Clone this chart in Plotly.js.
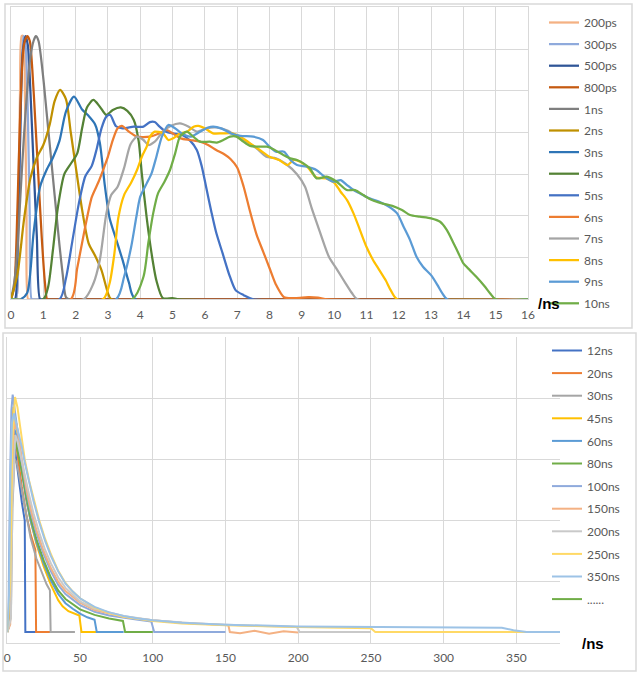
<!DOCTYPE html>
<html><head><meta charset="utf-8">
<script src="https://cdn.plot.ly/plotly-3.0.1.min.js"></script>
<style>html,body{margin:0;padding:0;background:#fff}#chart{width:640px;height:680px}</style>
</head><body><div id="chart"></div>
<script>
// ---------- Top panel (x in ns, y in grid units) ----------
const topNames = ["200ps","300ps","500ps","800ps","1ns","2ns","3ns","4ns","5ns","6ns","7ns","8ns","9ns","10ns"];
const topColors = ["#F4B183","#8FAADC","#2F5597","#C55A11","#7F7F7F","#BF9000","#2E75B6","#548235","#4472C4","#ED7D31","#A5A5A5","#FFC000","#5B9BD5","#70AD47"];
const topTicks = [0,1,2,3,4,5,6,7,8,9,10,11,12,13,14,15,16];

const x_200ps = [0,0.15,0.22,0.28,0.33,0.38,0.43,0.48,0.53,0.6,16];
const y_200ps = [0,0,2.0,5.0,6.31,6.31,5.0,2.0,0,0,0];
const x_300ps = [0,0.15,0.22,0.3,0.38,0.45,0.52,0.58,0.64,0.7,16];
const y_300ps = [0,0,1.5,4.5,6.31,6.1,4.5,2.0,0,0,0];
const x_500ps = [0,0.12,0.2,0.28,0.36,0.45,0.52,0.6,0.7,0.8,0.9,1.0,16];
const y_500ps = [0,0,1.2,3.8,5.9,6.31,6.1,5.0,3.2,1.5,0,0,0];
const x_800ps = [0,0.1,0.2,0.3,0.4,0.5,0.58,0.66,0.75,0.85,0.95,1.05,1.12,1.2,16];
const y_800ps = [0,0.3,2.2,4.8,6.1,6.31,6.2,5.5,4.3,2.9,1.5,0.4,0,0,0];
const x_1ns = [0,0.1,0.2,0.3,0.4,0.5,0.6,0.7,0.77,0.85,1.0,1.1,1.2,1.3,1.4,1.5,1.6,1.7,1.8,16];
const y_1ns = [0,0.4,1.2,2.6,3.9,5.0,5.8,6.2,6.31,6.2,5.3,4.5,3.7,2.9,2.1,1.3,0.6,0.05,0,0];
const x_2ns = [0,0.2,0.4,0.6,0.8,1.0,1.2,1.35,1.52,1.7,1.85,2.0,2.2,2.4,2.6,2.8,3.0,3.1,16];
const y_2ns = [0,0.6,1.9,2.9,3.4,3.7,4.2,4.75,5.02,4.8,4.0,3.2,2.15,1.35,1.05,0.7,0.15,0,0];
const x_3ns = [0,0.3,0.5,0.7,0.9,1.1,1.3,1.5,1.7,1.95,2.2,2.4,2.6,2.75,2.9,3.05,3.25,3.45,3.65,3.85,16];
const y_3ns = [0,0,0.15,1.6,2.7,3.1,3.4,3.8,4.5,4.86,4.55,4.4,4.2,3.75,2.75,1.95,1.45,0.95,0.4,0,0];
const x_4ns = [0,1.0,1.15,1.3,1.45,1.65,1.85,2.05,2.2,2.35,2.55,2.75,2.95,3.15,3.4,3.6,3.8,3.95,4.05,4.2,4.35,4.5,4.7,5.0,5.2,16];
const y_4ns = [0,0,0.3,1.2,2.2,3.0,3.25,3.5,4.1,4.6,4.78,4.62,4.42,4.54,4.6,4.52,4.3,3.8,3.0,1.95,1.1,0.45,0.03,0.03,0,0];
const x_5ns = [0,1.5,1.7,1.9,2.1,2.3,2.5,2.65,2.8,2.95,3.07,3.25,3.45,3.8,4.1,4.3,4.45,4.6,4.8,5.0,5.3,5.55,5.75,5.9,6.05,6.2,6.35,6.55,6.75,6.95,7.2,7.5,16];
const y_5ns = [0,0,0.5,1.4,2.3,2.95,3.2,3.6,4.1,4.38,4.42,4.15,4.1,4.14,4.14,4.25,4.25,4.14,4.02,3.98,3.94,3.8,3.58,3.2,2.65,2.1,1.6,1.1,0.6,0.22,0.1,0,0];
const x_6ns = [0,1.85,2.05,2.3,2.5,2.7,2.85,3.0,3.15,3.3,3.43,3.65,3.9,4.3,4.6,4.8,5.0,5.25,5.55,5.85,6.1,6.35,6.6,6.8,7.0,7.2,7.4,7.6,7.8,8.0,8.2,8.45,8.8,9.2,9.5,9.8,16];
const y_6ns = [0,0,0.75,1.75,2.45,2.8,3.1,3.42,3.82,4.1,4.16,4.02,3.9,3.9,3.98,4.06,3.98,3.86,3.82,3.78,3.7,3.58,3.48,3.36,3.16,2.7,2.1,1.55,1.15,0.75,0.35,0.05,0.03,0.05,0.04,0,0];
const x_7ns = [0,2.25,2.55,2.75,2.95,3.1,3.3,3.5,3.7,3.9,4.1,4.25,4.45,4.7,4.95,5.23,5.5,5.75,6.05,6.35,6.7,7.0,7.3,7.6,7.9,8.2,8.5,8.85,9.1,9.3,9.5,9.7,9.85,10.1,10.35,10.55,10.72,16];
const y_7ns = [0,0,0.38,0.95,2.05,2.5,2.7,3.15,3.72,3.9,3.82,3.7,3.78,4.02,4.16,4.22,4.14,4.02,4.1,4.12,4.05,3.9,3.78,3.62,3.42,3.38,3.25,3.0,2.7,2.2,1.75,1.3,1.0,0.7,0.39,0.15,0,0];
const x_8ns = [0,2.85,3.05,3.2,3.32,3.5,3.72,3.9,4.05,4.2,4.3,4.45,4.7,4.87,5.02,5.23,5.45,5.65,5.8,6.0,6.25,6.55,6.85,7.1,7.4,7.7,8.0,8.3,8.55,8.75,8.95,9.2,9.45,9.75,10.0,10.2,10.4,10.6,10.8,11.0,11.2,11.4,11.6,11.75,11.95,16];
const y_8ns = [0,0,0.38,1.1,1.95,2.5,2.8,3.1,3.42,3.66,3.9,4.02,3.98,3.82,3.86,3.98,4.02,4.14,4.16,4.1,3.98,3.98,3.98,3.9,3.74,3.58,3.42,3.34,3.22,3.34,3.3,3.15,2.92,2.9,2.8,2.58,2.38,2.06,1.66,1.26,0.95,0.7,0.45,0.22,0,0];
const x_9ns = [0,3.25,3.5,3.72,3.88,4.0,4.2,4.35,4.5,4.67,4.87,5.08,5.28,5.55,5.85,6.1,6.26,6.5,6.8,7.1,7.5,7.8,8.0,8.2,8.45,8.65,8.85,9.15,9.45,9.7,9.98,10.2,10.4,10.6,10.8,11.1,11.4,11.7,11.95,12.15,12.35,12.55,12.75,13.0,13.2,13.35,13.5,16];
const y_9ns = [0,0,0.54,1.26,1.98,2.46,2.78,3.02,3.42,3.9,4.18,4.1,3.98,3.9,4.02,4.12,4.14,4.1,3.98,3.92,3.9,3.82,3.66,3.54,3.54,3.34,3.22,3.18,3.1,2.94,2.82,2.86,2.74,2.62,2.54,2.42,2.34,2.22,2.06,1.74,1.42,1.02,0.78,0.58,0.34,0.14,0,0];
const x_10ns = [0,3.75,4.1,4.25,4.4,4.55,4.75,4.92,5.08,5.23,5.44,5.64,5.85,6.15,6.37,6.57,6.78,6.98,7.19,7.4,7.7,7.92,8.12,8.43,8.64,8.85,9.05,9.25,9.46,9.77,10.08,10.39,10.65,10.9,11.17,11.48,11.8,12.1,12.35,12.65,13.0,13.28,13.49,13.7,13.85,14.0,14.2,14.4,14.65,14.83,15.0,16];
const y_10ns = [0,0,0.54,1.35,2.06,2.54,2.82,3.1,3.5,3.9,4.02,3.9,3.78,3.78,3.76,3.82,3.9,3.9,3.78,3.68,3.66,3.66,3.6,3.46,3.38,3.34,3.26,3.14,2.9,2.94,2.82,2.62,2.62,2.5,2.38,2.3,2.24,2.14,2.02,1.98,1.94,1.86,1.66,1.34,1.1,0.86,0.7,0.54,0.32,0.14,0,0];

// ---------- Bottom panel (x in ns, y in grid units) ----------
const botNames = ["12ns","20ns","30ns","45ns","60ns","80ns","100ns","150ns","200ns","250ns","350ns","......"];
const botColors = ["#4472C4","#ED7D31","#A5A5A5","#FFC000","#5B9BD5","#70AD47","#8FAADC","#F4B183","#C9C9C9","#FFD966","#9DC3E6","#70AD47"];
const botTicks = [0,50,100,150,200,250,300,350];

const x_12ns = [0,1.5,2.5,3.5,4.5,6,8,10,12,12.4,20];
const y_12ns = [0.18,0.3,2.2,3.2,3.3,3.0,2.6,2.3,2.0,0.18,0.18];
const x_20ns = [0,2,3,4,5,6,8,10,13,16,19.3,19.8,30];
const y_20ns = [0.18,0.4,2.4,3.3,3.45,3.25,2.9,2.55,2.1,1.78,1.52,0.18,0.18];
const x_30ns = [0,2.5,3.5,5,6.5,8,10,13,16,20,24,27,29.3,29.8,46.5];
const y_30ns = [0.18,0.5,2.2,3.0,2.95,2.75,2.45,2.05,1.72,1.38,1.12,0.96,0.86,0.18,0.18];
const x_45ns = [0,1.5,2.5,4.2,6,8,10,13,16,20,25,30,35,38,42,46,49.5,51,62];
const y_45ns = [0.18,0.6,2.8,3.86,3.6,3.25,2.85,2.35,2.0,1.62,1.25,0.95,0.7,0.6,0.52,0.48,0.45,0.18,0.18];
const x_60ns = [0,2,3,4.3,6,8,10,13,16,20,25,30,35,40,45,50,55,60,61.5,80];
const y_60ns = [0.18,0.8,2.9,3.55,3.4,3.15,2.8,2.35,2.0,1.65,1.3,1.02,0.8,0.65,0.56,0.48,0.42,0.38,0.18,0.18];
const x_80ns = [0,2,3.2,4.8,6.5,8,10,13,16,20,25,30,35,40,50,60,70,79.5,81,100];
const y_80ns = [0.18,0.4,2.4,3.35,3.2,3.05,2.8,2.4,2.05,1.7,1.35,1.07,0.86,0.72,0.55,0.46,0.4,0.36,0.18,0.18];
const x_100ns = [0,0.8,1.8,2.8,3.7,5,6.5,8,10,13,16,20,25,30,35,40,50,60,70,80,90,99,101,150];
const y_100ns = [0.18,0.6,2.5,3.8,4.06,3.85,3.55,3.3,2.95,2.5,2.15,1.8,1.45,1.17,0.95,0.8,0.62,0.51,0.45,0.41,0.38,0.35,0.18,0.18];
const x_150ns = [0,2,3,4,5,5.6,6,8,10,13,16,20,25,30,35,40,50,60,80,100,120,140,152,153,160,170,180,190,200];
const y_150ns = [0.18,0.3,2.0,3.3,3.7,3.5,3.6,3.35,3.0,2.55,2.2,1.85,1.5,1.22,1.0,0.85,0.66,0.54,0.43,0.37,0.33,0.3,0.29,0.18,0.16,0.2,0.15,0.19,0.17];
const x_200ns = [0,2.5,3.5,5.5,7,9,12,15,18,22,26,30,35,40,50,60,80,100,130,160,199,201,250];
const y_200ns = [0.18,0.4,2.3,3.4,3.3,3.1,2.75,2.42,2.12,1.8,1.52,1.3,1.07,0.9,0.68,0.56,0.44,0.37,0.32,0.29,0.26,0.18,0.18];
const x_250ns = [0,2,3.5,5.3,7,9,12,15,18,22,26,30,35,40,45,50,60,70,80,90,100,120,150,200,250,253,380];
const y_250ns = [0.18,1.0,3.3,4.02,3.85,3.5,3.0,2.65,2.35,2.0,1.7,1.45,1.18,0.98,0.84,0.73,0.58,0.49,0.43,0.39,0.36,0.32,0.29,0.26,0.24,0.18,0.18];
const x_350ns = [0,1.2,2.2,3.2,4.5,6,8,10,12,15,18,22,26,30,35,40,45,50,60,70,80,90,100,120,150,200,250,300,340,348,357,380];
const y_350ns = [0.18,0.8,2.8,3.6,3.75,3.6,3.45,3.2,2.95,2.62,2.32,1.97,1.67,1.42,1.17,0.97,0.84,0.73,0.59,0.5,0.44,0.4,0.37,0.33,0.3,0.27,0.26,0.25,0.25,0.21,0.18,0.18];
const x_dots = [null];
const y_dots = [null];

const topX = [x_200ps,x_300ps,x_500ps,x_800ps,x_1ns,x_2ns,x_3ns,x_4ns,x_5ns,x_6ns,x_7ns,x_8ns,x_9ns,x_10ns];
const topY = [y_200ps,y_300ps,y_500ps,y_800ps,y_1ns,y_2ns,y_3ns,y_4ns,y_5ns,y_6ns,y_7ns,y_8ns,y_9ns,y_10ns];
const botX = [x_12ns,x_20ns,x_30ns,x_45ns,x_60ns,x_80ns,x_100ns,x_150ns,x_200ns,x_250ns,x_350ns,x_dots];
const botY = [y_12ns,y_20ns,y_30ns,y_45ns,y_60ns,y_80ns,y_100ns,y_150ns,y_200ns,y_250ns,y_350ns,y_dots];

const W = 640, H = 680;
const px = v => v / W, py = v => 1 - v / H;
const FONT = "Lato, 'Noto Sans', sans-serif";
const GRID = "#d9d9d9";

const traces = [];
topNames.forEach((n, i) => traces.push({
  type: "scatter", mode: "lines", name: n, x: topX[i], y: topY[i],
  xaxis: "x", yaxis: "y", legend: "legend", legendgroup: "t" + i,
  line: {color: topColors[i], width: 2.25, shape: "spline", smoothing: 0.7},
  hoverinfo: "skip"
}));
botNames.forEach((n, i) => traces.push({
  type: "scatter", mode: "lines", name: n, x: botX[i], y: botY[i],
  xaxis: "x2", yaxis: "y2", legend: "legend2", legendgroup: "b" + i,
  line: {color: botColors[i], width: 2}, hoverinfo: "skip"
}));

const axBase = {
  showgrid: true, gridcolor: GRID, gridwidth: 1, zeroline: false,
  showline: true, linecolor: GRID, linewidth: 1, ticks: "",
  tickfont: {family: FONT, size: 12, color: "#595959"}, fixedrange: true
};

const layout = {
  width: W, height: H, margin: {l: 0, r: 0, t: 0, b: 0, pad: 0},
  paper_bgcolor: "#ffffff", plot_bgcolor: "#ffffff", showlegend: true,
  xaxis: Object.assign({}, axBase, {domain: [px(11), px(528)], range: [0, 16], tickmode: "array", tickvals: topTicks, ticktext: topTicks.map(String), mirror: true, anchor: "y", ticklabelstandoff: 4}),
  yaxis: Object.assign({}, axBase, {domain: [py(299.3), py(7.4)], range: [0, 7], dtick: 1, showticklabels: false, mirror: true, anchor: "x"}),
  xaxis2: Object.assign({}, axBase, {domain: [px(7.3), px(560)], range: [0, 380], tickmode: "array", tickvals: botTicks, ticktext: botTicks.map(String), anchor: "y2", ticklabelstandoff: 4}),
  yaxis2: Object.assign({}, axBase, {domain: [py(643), py(337)], range: [0, 5], dtick: 1, showticklabels: false, anchor: "x2"}),
  legend: {x: px(544), xanchor: "left", y: py(8), yanchor: "top", traceorder: "grouped", tracegroupgap: 2.6,
    font: {family: FONT, size: 12, color: "#595959"}, bgcolor: "rgba(0,0,0,0)", borderwidth: 0},
  legend2: {x: px(547), xanchor: "left", y: py(336), yanchor: "top", traceorder: "grouped", tracegroupgap: 3.6,
    font: {family: FONT, size: 12, color: "#595959"}, bgcolor: "rgba(0,0,0,0)", borderwidth: 0},
  shapes: [
    {type: "rect", xref: "paper", yref: "paper", x0: px(5), x1: px(632), y0: py(328), y1: py(4), line: {color: GRID, width: 1.5}, fillcolor: "rgba(0,0,0,0)", layer: "below"},
    {type: "rect", xref: "paper", yref: "paper", x0: px(3), x1: px(636), y0: py(671), y1: py(333), line: {color: GRID, width: 1.5}, fillcolor: "rgba(0,0,0,0)", layer: "below"}
  ],
  annotations: [
    {xref: "paper", yref: "paper", x: px(549), y: py(303), xanchor: "center", yanchor: "middle", text: "<b>/ns</b>", showarrow: false, font: {family: "'Liberation Sans', Arial, sans-serif", size: 15, color: "#000"}},
    {xref: "paper", yref: "paper", x: px(593), y: py(643), xanchor: "center", yanchor: "middle", text: "<b>/ns</b>", showarrow: false, font: {family: "'Liberation Sans', Arial, sans-serif", size: 15, color: "#000"}}
  ]
};

Plotly.newPlot("chart", traces, layout, {displayModeBar: false, staticPlot: true});
</script>
</body></html>
